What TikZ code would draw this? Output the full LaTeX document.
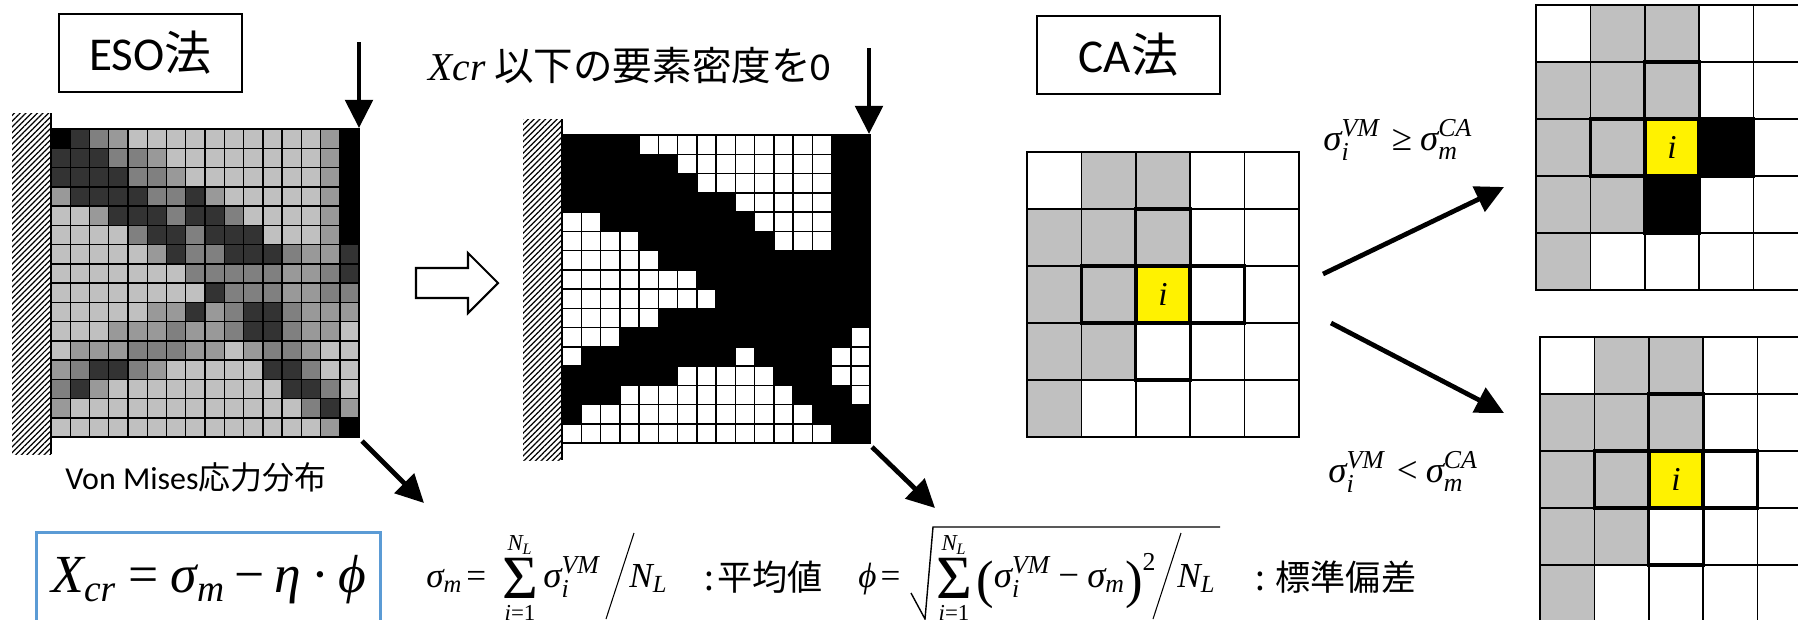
\documentclass[tikz,border=0pt]{standalone}
\usepackage{amsmath}
\usepackage{fontspec}
\setmainfont{Carlito}
\newfontfamily\jpfont{Noto Sans CJK JP}
\newfontfamily\tnr{Liberation Serif}
\usetikzlibrary{arrows.meta,patterns.meta}
\definecolor{s0}{HTML}{000000}
\definecolor{s1}{HTML}{333333}
\definecolor{s2}{HTML}{808080}
\definecolor{s3}{HTML}{999999}
\definecolor{s4}{HTML}{C0C0C0}
\definecolor{s5}{HTML}{FFFFFF}
\definecolor{bb}{HTML}{5B9BD5}
\newcommand{\mvar}[1]{\text{\tnr\itshape #1}}
\newcommand{\mrom}[1]{\text{\tnr #1}}
\newcommand{\bigparen}[1]{\raisebox{-6pt}{\fontsize{30}{30}\selectfont\tnr #1}}
\newcommand{\sigvm}{\mvar{σ}_{\mvar{i}}^{\mvar{VM}}}
\newcommand{\sigm}{\mvar{σ}_{\mvar{m}}}
\newcommand{\stressvals}{{0,1,2,3,4,4,4,4,4,4,4,4,4,4,3,0},{1,1,1,2,2,3,4,4,4,4,4,4,4,4,3,0},
  {1,1,1,1,2,2,3,4,4,4,4,4,4,4,3,0},{3,1,1,1,1,2,2,1,3,4,4,4,4,4,3,0},
  {4,4,3,1,1,1,2,1,1,2,4,4,4,4,3,0},{4,4,4,4,2,1,1,2,1,1,1,4,4,4,3,0},
  {4,4,4,4,4,3,1,2,2,1,1,1,2,3,3,1},{4,4,4,4,4,4,4,2,2,2,2,2,3,3,2,1},
  {4,4,4,4,4,4,4,4,1,2,2,2,3,3,2,2},{4,4,4,4,4,3,3,1,3,2,1,1,2,3,3,3},
  {4,4,4,3,3,3,2,3,3,2,1,1,2,3,3,4},{4,3,3,3,2,2,2,3,3,4,3,2,2,3,4,4},
  {3,2,1,1,2,3,4,4,4,4,4,1,1,2,4,4},{2,1,3,4,4,4,4,4,4,4,4,4,1,1,2,4},
  {3,4,4,4,4,4,4,4,4,4,4,4,4,2,1,3},{4,4,4,4,4,4,4,4,4,4,4,4,4,4,3,0}}
\newcommand{\densvals}{{0,0,0,0,5,5,5,5,5,5,5,5,5,5,0,0},{0,0,0,0,0,0,5,5,5,5,5,5,5,5,0,0},
  {0,0,0,0,0,0,0,5,5,5,5,5,5,5,0,0},{0,0,0,0,0,0,0,0,0,5,5,5,5,5,0,0},
  {5,5,0,0,0,0,0,0,0,0,5,5,5,5,0,0},{5,5,5,5,0,0,0,0,0,0,0,5,5,5,0,0},
  {5,5,5,5,5,0,0,0,0,0,0,0,0,0,0,0},{5,5,5,5,5,5,5,0,0,0,0,0,0,0,0,0},
  {5,5,5,5,5,5,5,5,0,0,0,0,0,0,0,0},{5,5,5,5,5,0,0,0,0,0,0,0,0,0,0,0},
  {5,5,5,0,0,0,0,0,0,0,0,0,0,0,0,5},{5,0,0,0,0,0,0,0,0,5,0,0,0,0,5,5},
  {0,0,0,0,0,0,5,5,5,5,5,0,0,0,5,5},{0,0,0,5,5,5,5,5,5,5,5,5,0,0,0,5},
  {0,5,5,5,5,5,5,5,5,5,5,5,5,0,0,0},{5,5,5,5,5,5,5,5,5,5,5,5,5,5,0,0}}

\begin{document}
\begin{tikzpicture}[x=0.02cm,y=-0.02cm,
  cell/.style={draw=black,line width=.85pt},
  selcell/.style={draw=black,line width=1.9pt},
  titlebox/.style={draw,line width=.85pt,minimum width=3.66cm,minimum height=1.56cm,inner sep=0pt,font=\fontsize{26.8}{30}\selectfont},
  ar/.style={-{Triangle[length=16pt,width=15.5pt]},line width=2.7pt},
  lbl/.style={inner sep=0pt,font=\fontsize{18.2}{22}\selectfont},
  eqn/.style={inner sep=0pt,anchor=base west,font=\fontsize{21}{25}\selectfont},
  jpn/.style={inner sep=0pt,anchor=west,font=\fontsize{20}{24}\selectfont\jpfont}]
\clip (0,0) rectangle (1798,619);
% stress and density meshes
\foreach \gx/\gy/\data in {51/129/\stressvals,562/135/\densvals}{
  \fill[pattern={Lines[angle=45,distance=2.3pt,line width=.7pt]}] ({\gx-39},{\gy-16}) rectangle (\gx,{\gy+325});
  \edef\meshrows{\data}
  \foreach \vals [count=\r from 0] in \meshrows
    \foreach \v [count=\c from 0] in \vals
      \draw[cell,fill=s\v] ({\gx+\c*19.25},{\gy+\r*19.25}) rectangle +(19.25,19.25);
  \draw[line width=1.4pt] (\gx,{\gy-16}) -- (\gx,{\gy+325});
}
% CA neighbourhoods
\foreach \gx/\gy/\nb in {1027/152/s5,1536/5/s0,1540/337/s5}{
  \foreach \vals [count=\r from 0] in {{5,4,4,5,5},{4,4,4,5,5},{4,4,5,5,5},{4,4,5,5,5},{4,5,5,5,5}}
    \foreach \v [count=\c from 0] in \vals
      \draw[cell,fill=s\v] ({\gx+\c*54.4},{\gy+\r*57}) rectangle +(54.4,57);
  \draw[selcell,fill=s4] ({\gx+2*54.4},{\gy+57}) rectangle +(54.4,57);
  \draw[selcell,fill=s4] ({\gx+54.4},{\gy+2*57}) rectangle +(54.4,57);
  \draw[selcell,fill=\nb] ({\gx+3*54.4},{\gy+2*57}) rectangle +(54.4,57);
  \draw[selcell,fill=\nb] ({\gx+2*54.4},{\gy+3*57}) rectangle +(54.4,57);
  \node[selcell,fill=yellow,minimum width=1.05cm,minimum height=1.12cm,inner sep=0pt,font=\fontsize{19}{23}\selectfont] (cent\gx) at ({\gx+2.5*54.4},{\gy+2.5*57}) {\tnr\itshape i};
}
% titles and labels
\node[titlebox] (eso) at (150.5,53) {ESO{\jpfont 法}};
\node[titlebox] (ca) at (1128.5,55) {CA{\jpfont 法}};
\node[lbl] (vm) at (196,477) {Von Mises{\jpfont 応力分布}};
\node[inner sep=0pt,anchor=base west,font=\fontsize{22.5}{26}\selectfont] (xcut) at (428,80) {{\tnr\itshape Xcr} {\jpfont 以下の要素密度を}0};
% arrows
\coordinate (topa) at (359,42); \coordinate (corna) at (359,128);
\coordinate (topb) at (869,48); \coordinate (cornb) at (869,134);
\coordinate (loa) at (362,441); \coordinate (hia) at (424,503);
\coordinate (lob) at (872,447); \coordinate (hib) at (935,508);
\coordinate (caa) at (1323,274); \coordinate (cab) at (1504,187);
\coordinate (cac) at (1331,323); \coordinate (cad) at (1504,413);
\draw[ar] (topa)--(corna); \draw[ar] (topb)--(cornb);
\draw[ar] (loa)--(hia); \draw[ar] (lob)--(hib);
\draw[ar] (caa)--(cab); \draw[ar] (cac)--(cad);
\draw[line width=1.2pt,fill=white] (416,268) -- (468,268) -- (468,253) -- (498,283) -- (468,313) -- (468,298) -- (416,298) -- cycle;
% conditions
\node[eqn] (cge) at (1323,150) {$\sigvm\mkern6mu\mrom{≥}\mkern4mu\mvar{σ}_{\mvar{m}}^{\mvar{CA}}$};
\node[eqn] (clt) at (1328,482) {$\sigvm\mkern6mu\mrom{<}\mkern4mu\mvar{σ}_{\mvar{m}}^{\mvar{CA}}$};
% threshold formulas
\node[draw=bb,line width=1.8pt,minimum width=6.88cm,minimum height=2cm,anchor=north west] (xbox) at (35,531) {};
\node[eqn,font=\fontsize{30.5}{34}\selectfont] (xcr) at (51,592) {$\mvar{X}_{\mvar{cr}\rule{0pt}{14pt}}\mathrel{\mrom{=}}\mvar{σ}_{\mvar{m}\rule{0pt}{14pt}}\mathbin{\mrom{−}}\mvar{η}\mathbin{\mrom{·}}\mvar{ϕ}$};
\node[eqn,font=\fontsize{20}{24}\selectfont] (meq) at (426,587) {$\sigm\mkern2mu\mrom{=}$};
\node[eqn,font=\fontsize{20}{24}\selectfont] (phieq) at (858,587) {$\mvar{ϕ}\mkern2mu\mrom{=}$};
\foreach \sx/\tag in {520/m,954/p}{
  \node[inner sep=0pt,font=\fontsize{35}{38}\selectfont\tnr] (sum\tag) at (\sx,578) {Σ};
  \node[inner sep=0pt,font=\fontsize{13}{15}\selectfont] (top\tag) at (\sx,545) {$\mvar{N}_{\mvar{L}}$};
  \node[inner sep=0pt,font=\fontsize{13}{15}\selectfont] (bot\tag) at (\sx,613) {$\mvar{i}\mrom{=}\mrom{1}$};
}
\node[eqn] (sumb) at (543,587) {$\sigvm$};
\node[eqn,font=\fontsize{20}{24}\selectfont] (nlm) at (629,587) {$\mvar{N}_{\mvar{L}}$};
\node[eqn] (inner) at (976,587) {$\bigparen{(}\sigvm\mathbin{\mrom{−}}\sigm\bigparen{)}^{\mrom{2}}$};
\node[eqn,font=\fontsize{20}{24}\selectfont] (nlp) at (1177,587) {$\mvar{N}_{\mvar{L}}$};
\coordinate (sla) at (634,533); \coordinate (slb) at (606,619);
\coordinate (slc) at (1181,533); \coordinate (sld) at (1153,619);
\draw[line width=.6pt] (sla)--(slb); \draw[line width=.6pt] (slc)--(sld);
\coordinate (ra) at (911,593); \coordinate (rb) at (925,619); \coordinate (rc) at (933,527); \coordinate (rd) at (1220,527);
\draw[line width=.8pt] (ra)--(rb)--(rc)--(rd);
\node[jpn] (mean) at (704,577) {:\hspace{2pt}平均値};
\node[jpn] (dev) at (1255,577) {:\hspace{6pt}標準偏差};
\end{tikzpicture}
\end{document}
